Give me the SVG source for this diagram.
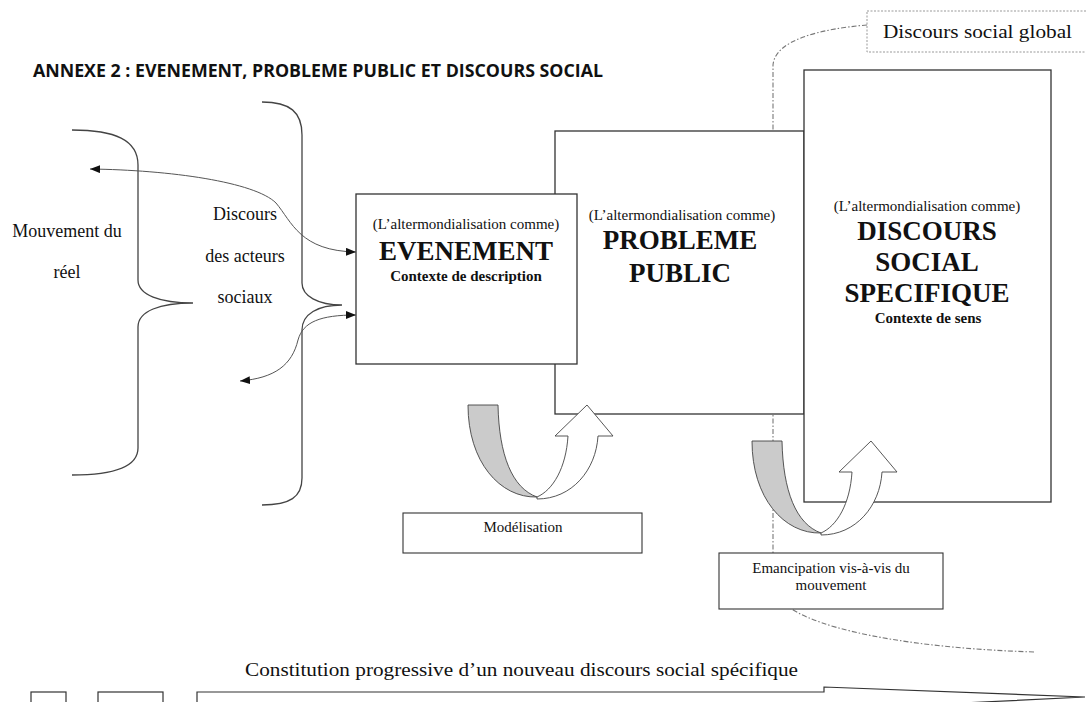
<svg xmlns="http://www.w3.org/2000/svg" xmlns:xlink="http://www.w3.org/1999/xlink" width="1086" height="702" viewBox="0 0 1086 702">
<style>
.box{fill:#fff;stroke:#333;stroke-width:1.3}
.lbl{fill:#fff;stroke:#333;stroke-width:1.1}
.serif{font-family:"Liberation Serif","Times New Roman",serif;fill:#111}
.b{font-weight:bold}
.mid{text-anchor:middle}
.brace{fill:none;stroke:#444;stroke-width:1.3}
.conn{fill:none;stroke:#555;stroke-width:1}
.dashdot{fill:none;stroke:#777;stroke-width:1.1;stroke-dasharray:5 2 1.5 2}
</style>
<defs>
<marker id="ah" viewBox="0 0 10 8" refX="10" refY="4" markerWidth="10" markerHeight="8" markerUnits="userSpaceOnUse" orient="auto-start-reverse">
<path d="M0,0 L10,4 L0,8 Z" fill="#111"/>
</marker>
<g id="uturn">
<path d="M468,405 L498,405 C499,455 512,488 537,497 C500,498 468,462 468,405 Z" fill="#cbcbcb" stroke="#444" stroke-width="0.9"/>
<path d="M537,499 C572,499 596,470 598,436 L613,436 L587,405 L555,436 L568,436 C566,468 553,490 537,497 Z" fill="#fff" stroke="#444" stroke-width="0.9"/>
</g>
</defs>
<rect width="1086" height="702" fill="#fff"/>

<text x="33" y="77" font-family="'Liberation Sans Narrow','Open Sans','Liberation Sans',Arial,sans-serif" font-weight="bold" font-size="17" textLength="570" lengthAdjust="spacingAndGlyphs" fill="#111">ANNEXE 2 : EVENEMENT, PROBLEME PUBLIC ET DISCOURS SOCIAL</text>

<g id="global-boundary">
<path class="dashdot" d="M867,25 C820,29 775,40 773,65 L773,585 C776,625 900,648 1035,652"/>
</g>

<g id="discours-global">
<rect x="867" y="11" width="230" height="41" fill="#fff" stroke="#999" stroke-width="1" stroke-dasharray="2 1.5"/>
<text class="serif" x="883" y="38" font-size="19" textLength="189" lengthAdjust="spacingAndGlyphs">Discours social global</text>
</g>

<g id="mouvement-reel">
<path class="brace" d="M72,130 C115,130 138,140 138,165 L138,280 C138,295 160,303 193,303 C160,303 138,311 138,327 L138,448 C138,466 115,475 72,475"/>
<text class="serif mid" x="67" y="237" font-size="18">Mouvement du</text>
<text class="serif mid" x="67" y="278" font-size="18">réel</text>
</g>

<g id="discours-acteurs">
<path class="brace" d="M262,102 C290,102 302,112 302,135 L302,283 C302,296 318,305 342,305 C318,305 302,314 302,330 L302,478 C302,497 290,505 262,505"/>
<text class="serif mid" x="245" y="220" font-size="18">Discours</text>
<text class="serif mid" x="245" y="262" font-size="18">des acteurs</text>
<text class="serif mid" x="245" y="303" font-size="18">sociaux</text>
</g>

<g id="probleme-public">
<rect class="box" x="555" y="131" width="249" height="283"/>
<text class="serif mid" x="682" y="220" font-size="15">(L’altermondialisation comme)</text>
<text class="serif mid b" x="680" y="249" font-size="27">PROBLEME</text>
<text class="serif mid b" x="680" y="282" font-size="27">PUBLIC</text>
</g>

<g id="evenement">
<rect class="box" x="356" y="194" width="221" height="170"/>
<text class="serif mid" x="466" y="229" font-size="15">(L’altermondialisation comme)</text>
<text class="serif mid b" x="466" y="260" font-size="27">EVENEMENT</text>
<text class="serif mid b" x="466" y="281" font-size="15">Contexte de description</text>
</g>

<g id="discours-social-specifique">
<rect class="box" x="804" y="70" width="247" height="432"/>
<text class="serif mid" x="927" y="211" font-size="15">(L’altermondialisation comme)</text>
<text class="serif mid b" x="927" y="240" font-size="27">DISCOURS</text>
<text class="serif mid b" x="927" y="271" font-size="27">SOCIAL</text>
<text class="serif mid b" x="927" y="302" font-size="27">SPECIFIQUE</text>
<text class="serif mid b" x="928" y="323" font-size="15">Contexte de sens</text>
</g>

<g id="connectors">
<path class="conn" d="M90,169 C170,170 255,182 276,203 C292,222 300,251 356,252" marker-start="url(#ah)" marker-end="url(#ah)"/>
<path class="conn" d="M240,381 C275,378 292,365 298,340 C303,322 320,315 356,315" marker-start="url(#ah)" marker-end="url(#ah)"/>
</g>

<g id="modelisation">
<use xlink:href="#uturn" href="#uturn"/>
<rect class="lbl" x="403" y="513" width="239" height="40"/>
<text class="serif mid" x="523" y="532" font-size="15">Modélisation</text>
</g>

<g id="emancipation">
<use xlink:href="#uturn" href="#uturn" transform="translate(284,36)"/>
<rect class="lbl" x="719" y="553" width="224" height="56"/>
<text class="serif mid" x="831" y="573" font-size="15">Emancipation vis-à-vis du</text>
<text class="serif mid" x="831" y="590" font-size="15">mouvement</text>
</g>

<g id="constitution">
<text class="serif" x="245" y="676" font-size="18" textLength="553" lengthAdjust="spacingAndGlyphs">Constitution progressive d’un nouveau discours social spécifique</text>
<path d="M197,703 L197,692 L824,692 L824,687 L1085,697 L963,703" fill="#fff" stroke="#333" stroke-width="1.2"/>
</g>

<g id="bottom-boxes">
<rect x="31" y="692" width="35" height="20" fill="#fff" stroke="#333" stroke-width="1.2"/>
<rect x="98" y="692" width="65" height="20" fill="#fff" stroke="#333" stroke-width="1.2"/>
</g>
</svg>
